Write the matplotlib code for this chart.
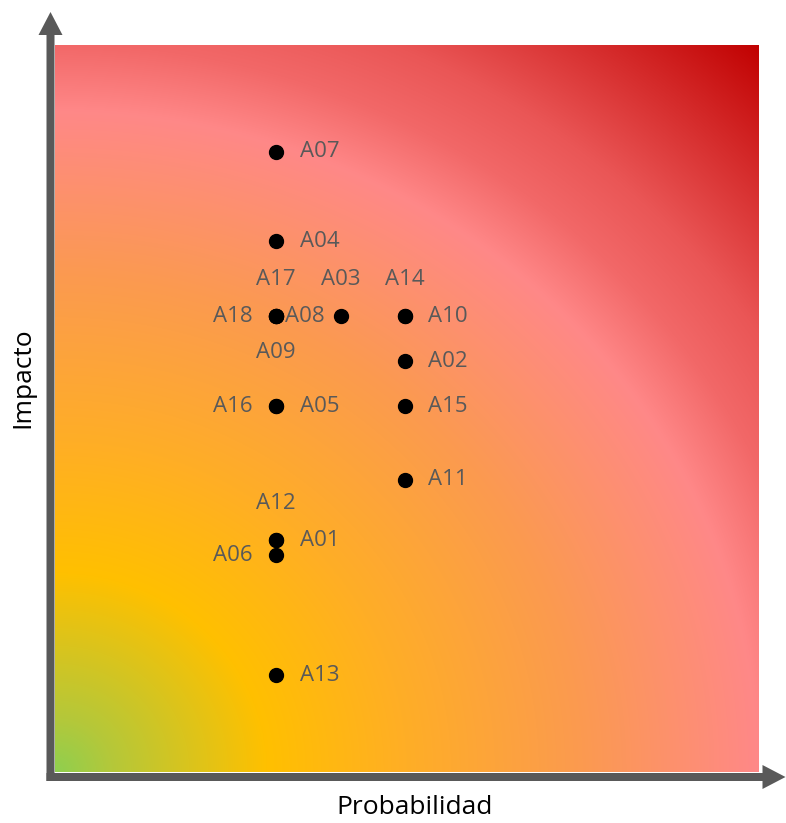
import numpy as np
import matplotlib
matplotlib.use("Agg")
import matplotlib.pyplot as plt
from matplotlib.colors import to_rgb
from matplotlib.patches import FancyArrow

# Risk register: probability (x, %) and impact (y, %) per item
labels = ["A01", "A02", "A03", "A04", "A05", "A06", "A07", "A08", "A09",
          "A10", "A11", "A12", "A13", "A14", "A15", "A16", "A17", "A18"]
probabilidad = [31.4, 49.7, 40.6, 31.4, 31.4, 31.4, 31.4, 31.4, 31.4,
                49.7, 49.7, 31.4, 31.4, 49.7, 49.7, 31.4, 31.4, 31.4]
impacto = [31.9, 56.5, 62.7, 73.0, 50.3, 29.8, 85.3, 62.7, 62.7,
           62.7, 40.2, 31.9, 13.3, 62.7, 50.3, 50.3, 62.7, 62.7]

# where each label sits relative to its point
label_side = {"A03": "above", "A12": "above", "A14": "above", "A17": "above",
              "A09": "below", "A06": "left", "A16": "left", "A18": "left",
              "A08": "near"}

# elliptical heat-map stops measured from the low/low corner
grad_pos = [0.0, 0.08, 0.30, 0.50, 0.75, 1.00, 1.10, 1.20, 1.49]
grad_col = ["#8fcf4f", "#b4c83a", "#ffc000", "#ffae26", "#fb9a50",
            "#ff8888", "#f26868", "#ea5656", "#c00000"]

W, H = 786, 823
fig = plt.figure(figsize=(W / 100, H / 100), dpi=100)

# main plotting area (pixel box 55..759 x 45..772)
ax = fig.add_axes([55 / W, (H - 772) / H, 704 / W, 727 / H])
n = 500
u, v = np.meshgrid(np.linspace(0, 1, n), np.linspace(0, 1, n))
d = np.sqrt(u ** 2 + (v / 0.91) ** 2)
cols = np.array([to_rgb(c) for c in grad_col])
img = np.dstack([np.interp(d, grad_pos, cols[:, k]) for k in range(3)])
ax.imshow(img, origin="lower", extent=[0, 100, 0, 100], aspect="auto",
          interpolation="bilinear", zorder=0)

ax.plot(probabilidad, impacto, "o", color="black", ms=10, zorder=3)

txt_kw = dict(fontsize=16, color="#595959", family=["Open Sans", "DejaVu Sans"],
              textcoords="offset points", zorder=4)
for lab, x, y in zip(labels, probabilidad, impacto):
    side = label_side.get(lab, "right")
    if side == "right":
        ax.annotate(lab, (x, y), xytext=(17, 0), ha="left", va="center", **txt_kw)
    elif side == "near":
        ax.annotate(lab, (x, y), xytext=(6.5, 0), ha="left", va="center", **txt_kw)
    elif side == "left":
        ax.annotate(lab, (x, y), xytext=(-17, 0), ha="right", va="center", **txt_kw)
    elif side == "above":
        ax.annotate(lab, (x, y), xytext=(0, 26.5), ha="center", va="center", **txt_kw)
    else:
        ax.annotate(lab, (x, y), xytext=(0, -26), ha="center", va="center", **txt_kw)

ax.set_xlim(0, 100)
ax.set_ylim(0, 100)
ax.axis("off")

# axis arrows drawn in pixel space on a transparent overlay
ov = fig.add_axes([0, 0, 1, 1])
ov.set_xlim(0, W)
ov.set_ylim(H, 0)
ov.axis("off")
arrow_kw = dict(width=8, head_width=24, head_length=23,
                length_includes_head=True, color="#595959", lw=0)
ov.add_patch(FancyArrow(50.5, 781, 0, -769, **arrow_kw))
ov.add_patch(FancyArrow(46.5, 777, 739, 0, **arrow_kw))

fig.text(415 / W, 1 - 808 / H, "Probabilidad", fontsize=19, color="black",
         family=["Open Sans", "DejaVu Sans"], ha="center", va="center")
fig.text(23 / W, 1 - 378 / H, "Impacto", fontsize=19, color="black",
         family=["Open Sans", "DejaVu Sans"], ha="center", va="center",
         rotation=90)

fig.savefig("out.png", dpi=100)
